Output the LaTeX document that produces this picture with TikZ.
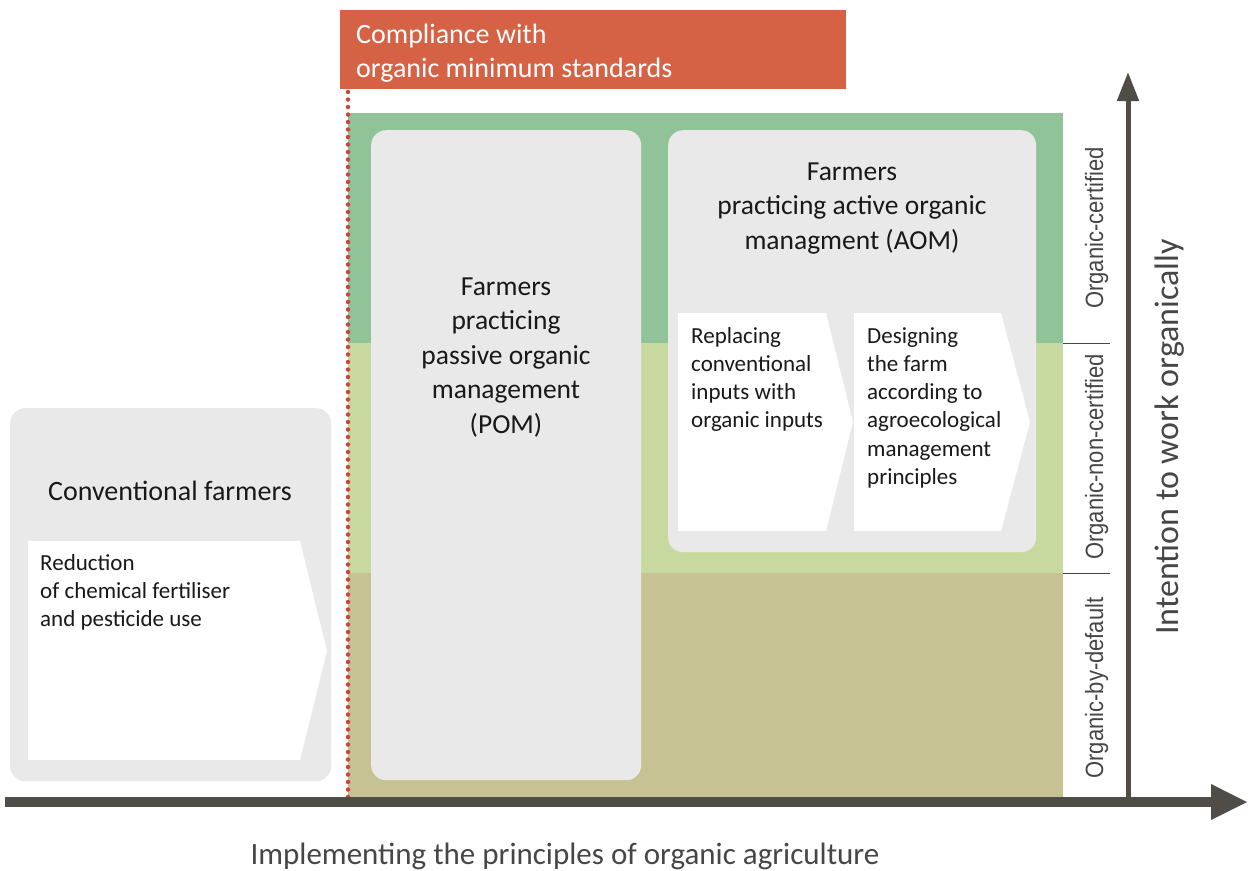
\documentclass[tikz,border=0pt]{standalone}
\usepackage{fontspec}
\setmainfont{Carlito}
\newfontfamily\labelfont[FakeStretch=0.88]{Liberation Sans}
\usetikzlibrary{arrows.meta}
\definecolor{orangebar}{RGB}{214,98,70}
\definecolor{greenA}{RGB}{145,195,152}
\definecolor{greenB}{RGB}{200,217,160}
\definecolor{tanC}{RGB}{199,194,148}
\definecolor{boxgray}{RGB}{233,233,233}
\definecolor{axisgray}{RGB}{80,77,72}
\definecolor{dotred}{RGB}{200,70,58}
\definecolor{txt}{RGB}{25,25,25}
\definecolor{lbl}{RGB}{70,70,70}
\newcommand\mytabc[1]{\begin{tabular}[t]{@{}c@{}}#1\end{tabular}}
\newcommand\mytabl[1]{\begin{tabular}[t]{@{}l@{}}#1\end{tabular}}
\tikzset{
  graybox/.style={fill=boxgray, draw=none, rounded corners=15pt, inner sep=0pt, anchor=north west},
  chevron/.style={fill=white, draw=none},
  bigtext/.style={inner sep=0pt, text=txt, font=\fontsize{27.5}{34.5}\selectfont},
  smalltext/.style={inner sep=0pt, text=txt, font=\fontsize{23}{28.3}\selectfont},
  sidelabel/.style={inner sep=0pt, text=lbl, rotate=90, anchor=base, font=\labelfont\fontsize{25}{30}\selectfont},
  divider/.style={draw=lbl, line width=1pt},
  axis/.style={draw=axisgray, fill=axisgray}
}
\begin{document}
\begin{tikzpicture}[x=1pt,y=-1pt]
\useasboundingbox (0,0) rectangle (1250,870);
% bands
\fill[greenA] (348,113) rectangle (1063,343);
\fill[greenB] (348,343) rectangle (1063,573);
\fill[tanC] (348,573) rectangle (1063,800);
% compliance bar
\node[fill=orangebar, minimum width=506pt, minimum height=79pt, inner sep=0pt, anchor=north west] (comp) at (340,10) {};
\node[inner sep=0pt, text=white, anchor=base west, font=\fontsize{28}{34}\selectfont] (comptext) at (356,43) {\mytabl{Compliance with\\organic minimum standards}};
% dotted line
\coordinate (dtop) at (348,92);
\coordinate (dbot) at (348,800);
\draw[dotred, line width=4.5pt, line cap=round, dash pattern=on 0pt off 7.5pt] (dtop) -- (dbot);
% boxes
\node[graybox, minimum width=321pt, minimum height=373pt] (conv) at (10,408) {};
\node[graybox, minimum width=270pt, minimum height=650pt] (pom) at (371,130) {};
\node[graybox, minimum width=368pt, minimum height=422pt] (aom) at (668,130) {};
% chevrons
\fill[chevron] (28,541) -- (300,541) -- (327,651) -- (300,760) -- (28,760) -- cycle;
\fill[chevron] (678,313) -- (826,313) -- (853,422) -- (826,531) -- (678,531) -- cycle;
\fill[chevron] (854,313) -- (1001,313) -- (1030,422) -- (1001,531) -- (854,531) -- cycle;
% texts
\node[bigtext, anchor=base, font=\fontsize{28}{34}\selectfont] (convtitle) at (170,500) {Conventional farmers};
\node[smalltext, anchor=base west] (convstep) at (40,570) {\mytabl{Reduction\\of chemical fertiliser\\and pesticide use}};
\node[bigtext, anchor=base] (pomtext) at (506,295) {\mytabc{Farmers\\practicing\\passive organic\\management\\(POM)}};
\node[bigtext, anchor=base] (aomtext) at (852,180) {\mytabc{Farmers\\practicing active organic\\managment (AOM)}};
\node[smalltext, anchor=base west] (stepone) at (691,343) {\mytabl{Replacing\\conventional\\inputs with\\organic inputs}};
\node[smalltext, anchor=base west] (steptwo) at (867,343) {\mytabl{Designing\\the farm\\according to\\agroecological\\management\\principles}};
% side labels
\node[sidelabel] (certified) at (1103,228) {Organic-certified};
\node[sidelabel] (noncert) at (1103,457) {Organic-non-certified};
\node[sidelabel] (default) at (1103,688) {Organic-by-default};
\coordinate (d1a) at (1063,343); \coordinate (d1b) at (1110,343);
\coordinate (d2a) at (1063,573); \coordinate (d2b) at (1110,573);
\draw[divider] (d1a) -- (d1b);
\draw[divider] (d2a) -- (d2b);
% axes
\coordinate (vstart) at (1128,802);
\coordinate (vend) at (1128,72);
\draw[axis, line width=5pt, -{Triangle[length=29pt,width=21pt]}] (vstart) -- (vend);
\coordinate (hstart) at (5,802);
\coordinate (hend) at (1248,802);
\draw[axis, line width=10pt, -{Triangle[length=37pt,width=33pt]}] (hstart) -- (hend);
\node[inner sep=0pt, text=lbl, anchor=base, font=\fontsize{31}{36}\selectfont] (xlabel) at (565,864) {Implementing the principles of organic agriculture};
\node[inner sep=0pt, text=lbl, rotate=90, anchor=base, font=\fontsize{34}{40}\selectfont] (ylabel) at (1178,437) {Intention to work organically};
\end{tikzpicture}
\end{document}
